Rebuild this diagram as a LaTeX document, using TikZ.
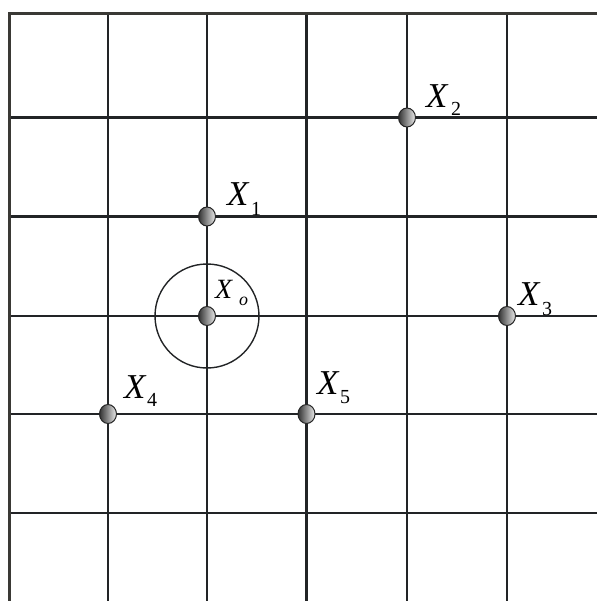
\documentclass[tikz,border=0pt]{standalone}
\usepackage{fontspec}
\setmainfont{Liberation Serif}
\usetikzlibrary{shapes.geometric}
\definecolor{gridc}{HTML}{222426}
\definecolor{framec}{HTML}{3A3935}
\tikzset{
  gridline/.style={draw=gridc, line width=2.2bp},
  frameline/.style={draw=framec, line width=3.4bp},
  ring/.style={draw=gridc, line width=1.4bp},
  pt/.style={ellipse, minimum width=17bp, minimum height=19bp, inner sep=0pt,
    draw=black!85, line width=1bp, left color=black!80, right color=white!92!black},
  bigx/.style={anchor=base west, inner sep=0pt, font=\fontsize{35}{35}\selectfont\itshape},
  smallx/.style={anchor=base west, inner sep=0pt, font=\fontsize{28}{28}\selectfont\itshape},
  subn/.style={anchor=base west, inner sep=0pt, font=\fontsize{20}{20}\selectfont},
  subo/.style={anchor=base west, inner sep=0pt, font=\fontsize{18}{18}\selectfont\itshape}
}
\begin{document}
\begin{tikzpicture}[x=1bp, y=-1bp]
\useasboundingbox (0,0) rectangle (597,601);
% frame
\draw[frameline] (9.3,601) -- (9.3,13.5) -- (597,13.5);
% vertical grid lines
\foreach \xx in {108,207,306.5,407,507}
  \draw[gridline] (\xx,15.5) -- (\xx,601);
% horizontal grid lines
\foreach \yy in {117.5,216.5,316,414,513}
  \draw[gridline] (11,\yy) -- (597,\yy);
% circle around Xo
\draw[ring] (207,316) circle [radius=52];
% points
\node[pt] (p0) at (207,316) {};
\node[pt] (p1) at (207,216.5) {};
\node[pt] (p2) at (407,117.5) {};
\node[pt] (p3) at (507,316) {};
\node[pt] (p4) at (108,414) {};
\node[pt] (p5) at (306.5,414) {};
% labels
\node[smallx] (l0) at (215,298) {X};
\node[subo] (s0) at (239,305) {o};
\node[bigx] (l1) at (227,205) {X};
\node[subn] (s1) at (251,215) {1};
\node[bigx] (l2) at (426,108) {X};
\node[subn] (s2) at (451,116) {2};
\node[bigx] (l3) at (518,305) {X};
\node[subn] (s3) at (542,315) {3};
\node[bigx] (l4) at (124,398) {X};
\node[subn] (s4) at (147,406) {4};
\node[bigx] (l5) at (317,394) {X};
\node[subn] (s5) at (340,403) {5};
\end{tikzpicture}
\end{document}
